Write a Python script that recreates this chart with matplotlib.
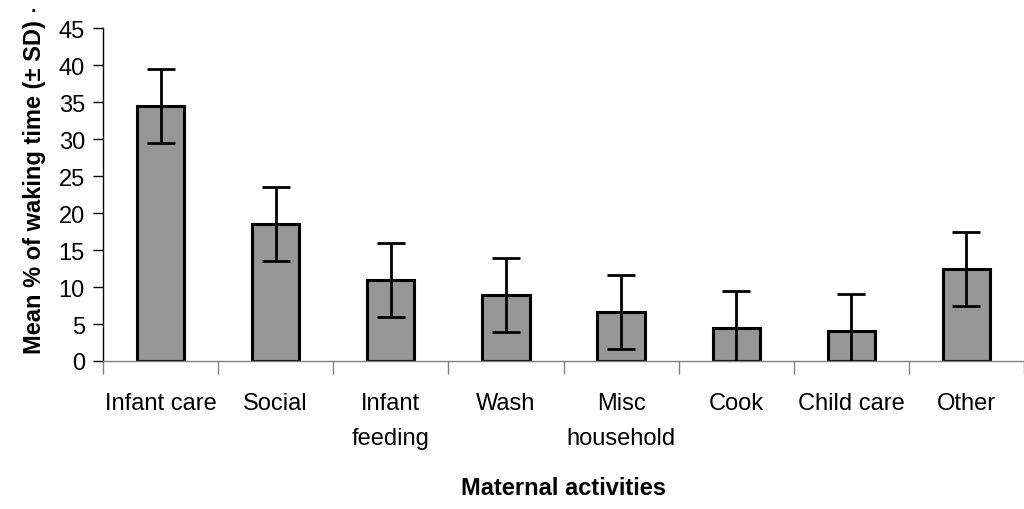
import matplotlib
matplotlib.use('Agg')
import matplotlib.pyplot as plt
import numpy as np

# data
activities = ['Infant care', 'Social', 'Infant\nfeeding', 'Wash', 'Misc\nhousehold',
              'Cook', 'Child care', 'Other']
mean_pct = [34.4, 18.5, 10.9, 8.9, 6.6, 4.5, 4.0, 12.4]
sd_pct = [5.0, 5.0, 5.0, 5.0, 5.0, 5.0, 5.0, 5.0]

# no narrow Arial here, so plain Liberation Sans a bit smaller
plt.rcParams['font.family'] = ['Liberation Sans', 'DejaVu Sans']

fig = plt.figure(figsize=(10.24, 5.10), dpi=100)
ax = fig.add_axes([0.1006, 0.2902, 0.8994, 0.6529])

x = np.arange(len(activities))
ax.bar(x, mean_pct, width=0.41, color='#969696', edgecolor='black', linewidth=2.2, zorder=2)
ax.errorbar(x, mean_pct, yerr=sd_pct, fmt='none', ecolor='black', elinewidth=2.0,
            capsize=10, capthick=2.0, zorder=3)

ax.set_xlim(-0.5, len(activities) - 0.5)
ax.set_ylim(0, 45)
ax.set_yticks(np.arange(0, 46, 5))
ax.tick_params(axis='y', direction='out', length=7, width=1.0, labelsize=17, pad=6)

# category boundaries get the tick marks, labels sit at bar centres
ax.set_xticks(np.arange(len(activities) + 1) - 0.5)
ax.set_xticklabels([])
ax.set_xticks(x, minor=True)
ax.set_xticklabels(activities, minor=True, linespacing=1.8)
ax.tick_params(axis='x', which='major', direction='out', length=9, width=1.0, color='#808080')
ax.tick_params(axis='x', which='minor', length=0, labelsize=17, pad=22)

for s in ['top', 'right']:
    ax.spines[s].set_visible(False)
ax.spines['bottom'].set_color('#808080')
ax.spines['bottom'].set_linewidth(1.0)
ax.spines['left'].set_linewidth(1.0)

ax.set_ylabel('Mean % of waking time (± SD)', fontsize=17, fontweight='bold')
ax.yaxis.set_label_coords(-0.062, 0.525)
ax.set_xlabel('Maternal activities', fontsize=17, fontweight='bold')
ax.xaxis.set_label_coords(0.5, -0.345)

fig.text(0.033, 0.985, '.', fontsize=14, fontweight='bold', ha='center', va='center')

fig.savefig('out.png', dpi=100)
